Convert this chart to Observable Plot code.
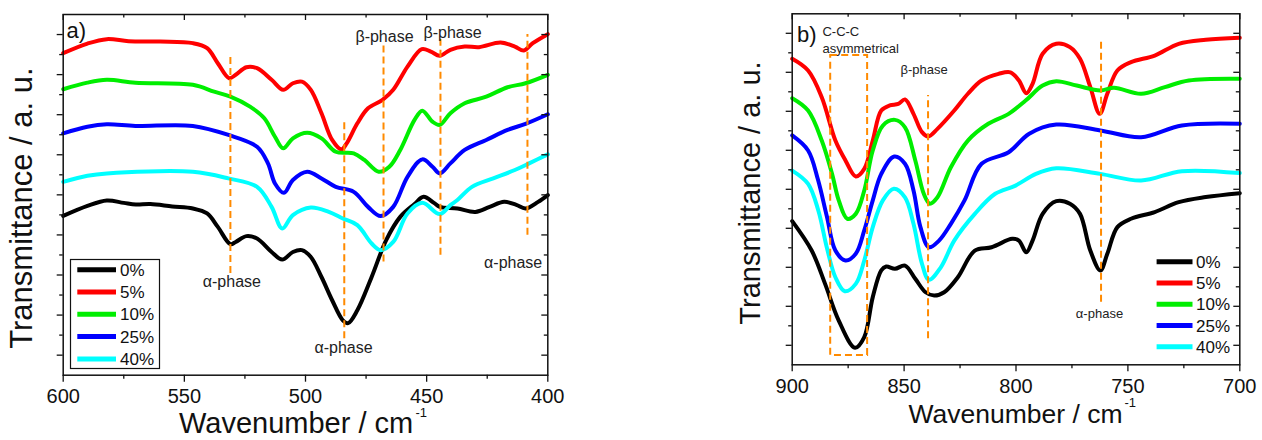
<!DOCTYPE html>
<html>
<head>
<meta charset="utf-8">
<script src="https://cdn.jsdelivr.net/npm/d3@7"></script>
<script src="https://cdn.jsdelivr.net/npm/@observablehq/plot@0.6"></script>
<style>
  body { margin: 0; background: #fff; }
  #wrap { position: relative; width: 1262px; height: 440px; overflow: hidden; font-family: "Liberation Sans", Arial, sans-serif; }
  #wrap > div, #wrap > svg { position: absolute; top: 0; }
  svg { overflow: visible; }
</style>
</head>
<body>
<div id="wrap"></div>
<script>
// ---------- data ----------
const seriesLabels = ["0%", "5%", "10%", "25%", "40%"];
const seriesColors = ["#000000", "#ff0000", "#00ee00", "#0000ff", "#00ffff"];
const guideColor = "#ff8a00";

// panel a) 600–400 cm-1 : [wavenumber, transmittance (a.u.)]
const a0 = [[600,7.95],[590,8.45],[582,8.72],[575,8.6],[570,8.52],[564,8.54],[555,8.42],[546.5,8.32],[540.6,8.07],[536.2,7.4],[531,6.54],[528.8,6.65],[524.4,6.94],[520,6.82],[514,6.15],[509.6,5.77],[505.2,6.15],[501.5,6.24],[497.8,5.9],[493.4,4.9],[489,3.74],[484.6,2.74],[482.4,2.6],[478.6,3.24],[472.7,4.9],[466.7,6.74],[460.9,7.9],[455,8.54],[451.3,8.9],[447,8.6],[444.6,8.4],[437.3,8.32],[429.9,8.15],[424,8.4],[418,8.65],[413,8.5],[409.2,8.32],[404,8.65],[400,8.99]];
const a1 = [[600,16.07],[590,16.55],[582,16.77],[573,16.67],[560,16.65],[546.5,16.57],[540.6,16.32],[536.2,15.57],[531.5,14.82],[528.8,14.99],[524.4,15.37],[520,15.32],[514,14.74],[509.2,14.24],[505.2,14.57],[501.5,14.65],[497.8,14.24],[493.4,13.07],[489,11.74],[485.2,11.27],[483,11.57],[478.6,12.57],[474.2,13.32],[468.2,13.74],[463.8,14.24],[457.9,15.4],[452,16.27],[448.3,16.15],[444.6,15.94],[440.2,16.24],[434.3,16.4],[428.4,16.37],[419.5,16.6],[413.6,16.4],[409.9,16.2],[406.2,16.57],[400,17.02]];
const a2 = [[600,14.27],[590,14.6],[582,14.74],[570.2,14.6],[546.5,14.49],[537.7,14.15],[531,13.9],[522.9,13.4],[517,12.82],[512.6,11.9],[509.2,11.32],[505.2,11.82],[499.3,12.1],[493.4,11.82],[487.5,11.15],[480.1,11.07],[475.7,10.74],[469.8,10.15],[465.4,10.4],[460.9,11.24],[455,12.74],[451.8,13.2],[447.6,12.65],[444.6,12.49],[440.2,13.07],[434.3,13.57],[425.4,13.9],[416.6,14.37],[409.2,14.57],[400,14.99]];
const a3 = [[600,12.07],[590,12.4],[582,12.52],[570.2,12.44],[546.5,12.44],[531.8,11.99],[520,11.4],[515.5,10.57],[512.6,9.57],[508.9,9.1],[505.2,9.74],[499.3,10.15],[493.4,9.82],[487.5,9.4],[480.1,9.15],[474.2,8.4],[469,7.94],[463.8,8.4],[457.9,9.9],[451.8,10.77],[447.6,10.4],[444.6,10.07],[440.2,10.57],[434.3,11.24],[425.4,11.74],[416.6,12.24],[409.2,12.54],[400,13.02]];
const a4 = [[600,9.65],[590,9.95],[582,10.07],[546.5,10.15],[531.8,9.82],[520,9.4],[514,8.4],[509.6,7.32],[505.2,7.99],[497.8,8.37],[490.4,8.15],[484.6,7.82],[478.6,7.49],[472.7,6.57],[469,6.24],[463.8,6.65],[457.9,8.07],[451.8,8.6],[444.6,8.04],[440.2,8.49],[437.3,8.74],[431.3,9.4],[422.5,9.82],[413.6,10.24],[407.7,10.57],[400,11.02]];

// panel b) 900–700 cm-1
const b0 = [[900,7.37],[891.3,5.86],[885.3,4.15],[879.2,2.27],[871.9,0.87],[867.8,1.42],[864,3.47],[860.2,4.84],[858,5.04],[854.1,4.92],[849.6,5.09],[845,4.41],[840.4,3.72],[836.6,3.55],[832.1,3.72],[826,4.49],[818.4,5.86],[810.9,6.03],[801.7,6.46],[798.7,6.37],[795.4,5.77],[792.6,6.37],[788.1,7.74],[782,8.39],[775.9,8.26],[771.4,7.74],[766.8,5.86],[762.3,4.84],[759.2,5.69],[754.7,7.06],[748.6,7.49],[738,7.83],[727.3,8.34],[715.2,8.6],[700,8.8]];
const b1 = [[900,15.69],[892.9,15.09],[886.8,13.72],[880.7,11.5],[876.2,10.48],[871.6,9.66],[867.8,10.05],[864,11.5],[860.2,13.04],[856.4,13.3],[852.6,13.38],[849.6,13.61],[845.8,12.87],[842,11.93],[839.2,11.71],[835.1,12.1],[827.6,13.04],[821.5,13.9],[815.4,14.58],[807.8,14.92],[802.5,15.0],[798.7,14.58],[795.4,13.93],[792.6,14.41],[788.1,15.95],[782,16.46],[775.9,16.29],[771.4,15.69],[766.8,14.24],[762.6,12.87],[759.2,13.9],[754.7,15.09],[748.6,15.52],[738,15.86],[727.3,16.46],[715.2,16.67],[700,16.77]];
const b2 = [[900,13.67],[892.9,13.04],[886.8,11.5],[882.2,9.79],[879.2,8.43],[875.4,7.49],[871.6,7.74],[867.8,8.94],[864,10.99],[859.5,12.27],[854.1,12.56],[849.6,12.18],[845,10.48],[841.2,8.77],[838.5,8.26],[835.1,8.59],[829.1,10.13],[821.5,11.5],[812.4,12.36],[803.3,12.87],[795.7,13.55],[788.1,14.32],[782,14.54],[772.9,14.32],[762.3,14.07],[756.2,14.21],[744.1,13.9],[733.5,14.24],[722.8,14.58],[700,14.67]];
const b3 = [[900,11.76],[892.9,10.99],[888.5,9.5],[884.5,7.6],[880.7,5.86],[876.2,5.35],[871.6,5.69],[867.8,6.89],[864,8.43],[860.2,9.79],[854.4,10.68],[849.6,10.31],[845.8,8.94],[842.7,7.06],[838.9,6.03],[834.4,6.37],[829.1,7.23],[823,8.43],[815.4,10.31],[803.3,10.9],[794.1,11.85],[782,12.32],[762.3,12.02],[744.1,11.67],[725.9,12.27],[700,12.36]];
const b4 = [[900,9.96],[892.9,9.28],[888.3,7.9],[884.5,6.0],[880.7,4.49],[876.5,3.77],[871.6,4.15],[867.8,5.35],[864,7.06],[859.5,8.43],[854.6,9.03],[849.6,8.59],[845.8,7.23],[842,5.18],[838.9,4.36],[833.6,5.0],[827.6,6.37],[818.4,7.74],[809.3,8.77],[800.2,9.19],[791.1,9.79],[782,10.08],[762.3,9.79],[744.1,9.45],[725.9,9.93],[700,9.83]];

// tick values
const aTicksMajor = [600, 550, 500, 450, 400];
const aTicksMinor = [575, 525, 475, 425];
const bTicksMajor = [900, 850, 800, 750, 700];
const bTicksMinor = [875, 825, 775, 725];
const yTicksMajor = [1, 3, 5, 7, 9, 11, 13, 15, 17];
const yTicksMinor = [2, 4, 6, 8, 10, 12, 14, 16];

// guide lines (dashed orange)
const aGuideX = [531, 484, 467.8, 444.3, 408.4];
const aGuideTop = [15.99, 12.65, 16.57, 16.75, 17.0];
const aGuideBottom = [5.07, 1.82, 5.65, 5.99, 6.99];
const bGuideX = [839.3, 762];
const bGuideTop = [13.81, 16.63];
const bGuideBottom = [1.33, 3.21];
const bBoxX = [882.8, 866.3];
const bBoxY = [0.48, 15.86];

// annotations
const aNoteX = [530.4, 484.3, 414.3, 467.4, 439.3];
const aNoteY = [4.67, 1.34, 5.63, 16.9, 17.1];
const aNoteText = ["α-phase", "α-phase", "α-phase", "β-phase", "β-phase"];
const bNoteX = [841.1, 762.7];
const bNoteY = [15.12, 2.62];
const bNoteText = ["β-phase", "α-phase"];
const bBandX = [886.5, 886.5];
const bBandY = [17.1, 16.2];
const bBandText = ["C-C-C", "asymmetrical"];

const FONT = '"Liberation Sans", Arial, Helvetica, sans-serif';

function idx(arr) { return arr.map((_, i) => i); }

function makePanel(cfg) {
  const fw = cfg.width - cfg.ml - cfg.mr;
  const fh = cfg.height - cfg.mt - cfg.mb;
  const tk = {stroke: "#111", strokeWidth: 1.3};
  const marks = [];
  cfg.series.forEach((s, i) => {
    marks.push(Plot.line(s, {x: d => d[0], y: d => d[1], stroke: seriesColors[i], strokeWidth: 4, curve: "catmull-rom", strokeLinejoin: "round", strokeLinecap: "round"}));
  });
  const gi = idx(cfg.guideX);
  marks.push(Plot.ruleX(gi, {x: i => cfg.guideX[i], y1: i => cfg.guideBottom[i], y2: i => cfg.guideTop[i], stroke: guideColor, strokeWidth: 2, strokeDasharray: "7,4"}));
  if (cfg.box) {
    marks.push(Plot.rect([0], {x1: () => cfg.box.x[0], x2: () => cfg.box.x[1], y1: () => cfg.box.y[0], y2: () => cfg.box.y[1], fill: "none", stroke: guideColor, strokeWidth: 2, strokeDasharray: "7,4"}));
  }
  const ni = idx(cfg.noteX);
  marks.push(Plot.text(ni, {x: i => cfg.noteX[i], y: i => cfg.noteY[i], text: i => cfg.noteText[i], fontSize: cfg.noteSize, fill: "#222", textAnchor: "middle"}));
  if (cfg.bandX) {
    const bi = idx(cfg.bandX);
    marks.push(Plot.text(bi, {x: i => cfg.bandX[i], y: i => cfg.bandY[i], text: i => cfg.bandText[i], fontSize: cfg.noteSize, fill: "#222", textAnchor: "start"}));
  }
  marks.push(
    Plot.frame({stroke: "#111", strokeWidth: 1.5}),
    Plot.tickX(cfg.xMajor, {x: d => d, insetTop: fh, insetBottom: -7, ...tk}),
    Plot.tickX(cfg.xMinor, {x: d => d, insetTop: fh, insetBottom: -4, ...tk}),
    Plot.tickX(cfg.xMajor, {x: d => d, insetTop: 0, insetBottom: fh - 6, ...tk}),
    Plot.tickX(cfg.xMinor, {x: d => d, insetTop: 0, insetBottom: fh - 3.5, ...tk}),
    Plot.tickY(yTicksMajor, {y: d => d, insetLeft: -6, insetRight: fw, ...tk}),
    Plot.tickY(yTicksMinor, {y: d => d, insetLeft: -3.5, insetRight: fw, ...tk}),
    Plot.tickY(yTicksMajor, {y: d => d, insetLeft: fw - 6, insetRight: 0, ...tk}),
    Plot.tickY(yTicksMinor, {y: d => d, insetLeft: fw - 3.5, insetRight: 0, ...tk}),
    Plot.text(cfg.xMajor, {x: d => d, text: d => String(d), frameAnchor: "bottom", lineAnchor: "top", dy: cfg.tickDy, fontSize: 20, fill: "#111"}),
    Plot.text([cfg.panelLabel], {text: d => d, frameAnchor: "top-left", textAnchor: "start", lineAnchor: "top", dx: cfg.plDx, dy: cfg.plDy, fontSize: 22, fill: "#111"}),
    Plot.text(["Transmittance / a. u."], {text: d => d, frameAnchor: "left", rotate: -90, textAnchor: "middle", lineAnchor: "top", dx: cfg.ylDx, dy: cfg.ylDy, fontSize: cfg.ylSize, fill: "#111"}),
    Plot.text(["Wavenumber / cm"], {text: d => d, frameAnchor: "bottom", textAnchor: "end", lineAnchor: "top", dx: cfg.xlDx, dy: cfg.xlDy, fontSize: cfg.xlSize, fill: "#111"}),
    Plot.text(["-1"], {text: d => d, frameAnchor: "bottom", textAnchor: "start", lineAnchor: "top", dx: cfg.supDx, dy: cfg.supDy, fontSize: 13, fill: "#111"})
  );
  return Plot.plot({
    width: cfg.width, height: cfg.height,
    marginLeft: cfg.ml, marginRight: cfg.mr, marginTop: cfg.mt, marginBottom: cfg.mb,
    x: {domain: cfg.xDomain, axis: null},
    y: {domain: [0, 18], axis: null},
    style: {fontFamily: FONT, background: "transparent", overflow: "visible"},
    marks
  });
}

const wrap = document.getElementById("wrap");

const left = makePanel({
  width: 640, height: 440, ml: 62.7, mr: 92.7, mt: 14, mb: 65.3,
  xDomain: [600, 400], xMajor: aTicksMajor, xMinor: aTicksMinor,
  series: [a0, a1, a2, a3, a4],
  guideX: aGuideX, guideTop: aGuideTop, guideBottom: aGuideBottom,
  noteX: aNoteX, noteY: aNoteY, noteText: aNoteText, noteSize: 16,
  tickDy: 13.6, panelLabel: "a)", plDx: 3.3, plDy: 8,
  ylDx: -53.4, ylDy: 13.2, ylSize: 31,
  xlDx: 107.7, xlDy: 37, xlSize: 29,
  supDx: 110, supDy: 32.5
});
left.style.left = "0px";
wrap.appendChild(left);

const right = makePanel({
  width: 602, height: 440, ml: 131.7, mr: 22.7, mt: 13.3, mb: 75.7,
  xDomain: [900, 700], xMajor: bTicksMajor, xMinor: bTicksMinor,
  series: [b0, b1, b2, b3, b4],
  guideX: bGuideX, guideTop: bGuideTop, guideBottom: bGuideBottom,
  box: {x: bBoxX, y: bBoxY},
  noteX: bNoteX, noteY: bNoteY, noteText: bNoteText, noteSize: 13,
  bandX: bBandX, bandY: bBandY, bandText: bBandText,
  tickDy: 14, panelLabel: "b)", plDx: 4.9, plDy: 13,
  ylDx: -52.7, ylDy: 3.7, ylSize: 29,
  xlDx: 106.5, xlDy: 39, xlSize: 26.5,
  supDx: 108.5, supDy: 32.5
});
right.style.left = "660px";
wrap.appendChild(right);

// ---------- legends (overlay inside each frame) ----------
function legend(opts) {
  const svg = d3.create("svg")
    .attr("width", opts.w).attr("height", opts.h)
    .style("position", "absolute").style("left", opts.left + "px").style("top", opts.top + "px")
    .style("font-family", FONT);
  if (opts.box) {
    svg.append("rect").attr("x", 0.5).attr("y", 0.5).attr("width", opts.w - 1).attr("height", opts.h - 1)
      .attr("fill", "#fff").attr("stroke", "#111").attr("stroke-width", 1.2);
  }
  seriesLabels.forEach((lab, i) => {
    const y = opts.y0 + i * opts.dy;
    svg.append("line").attr("x1", opts.lx1).attr("x2", opts.lx2).attr("y1", y).attr("y2", y)
      .attr("stroke", seriesColors[i]).attr("stroke-width", 5);
    svg.append("text").attr("x", opts.tx).attr("y", y).attr("dy", "0.36em")
      .attr("font-size", opts.fs).attr("fill", "#111").text(lab);
  });
  wrap.appendChild(svg.node());
}
legend({left: 70, top: 259.3, w: 90, h: 110, box: true, y0: 10.7, dy: 22.3, lx1: 7.3, lx2: 46, tx: 50, fs: 17});
legend({left: 1150, top: 245, w: 90, h: 115, box: false, y0: 16.7, dy: 21.25, lx1: 6.6, lx2: 42.5, tx: 46, fs: 17});
</script>
</body>
</html>
